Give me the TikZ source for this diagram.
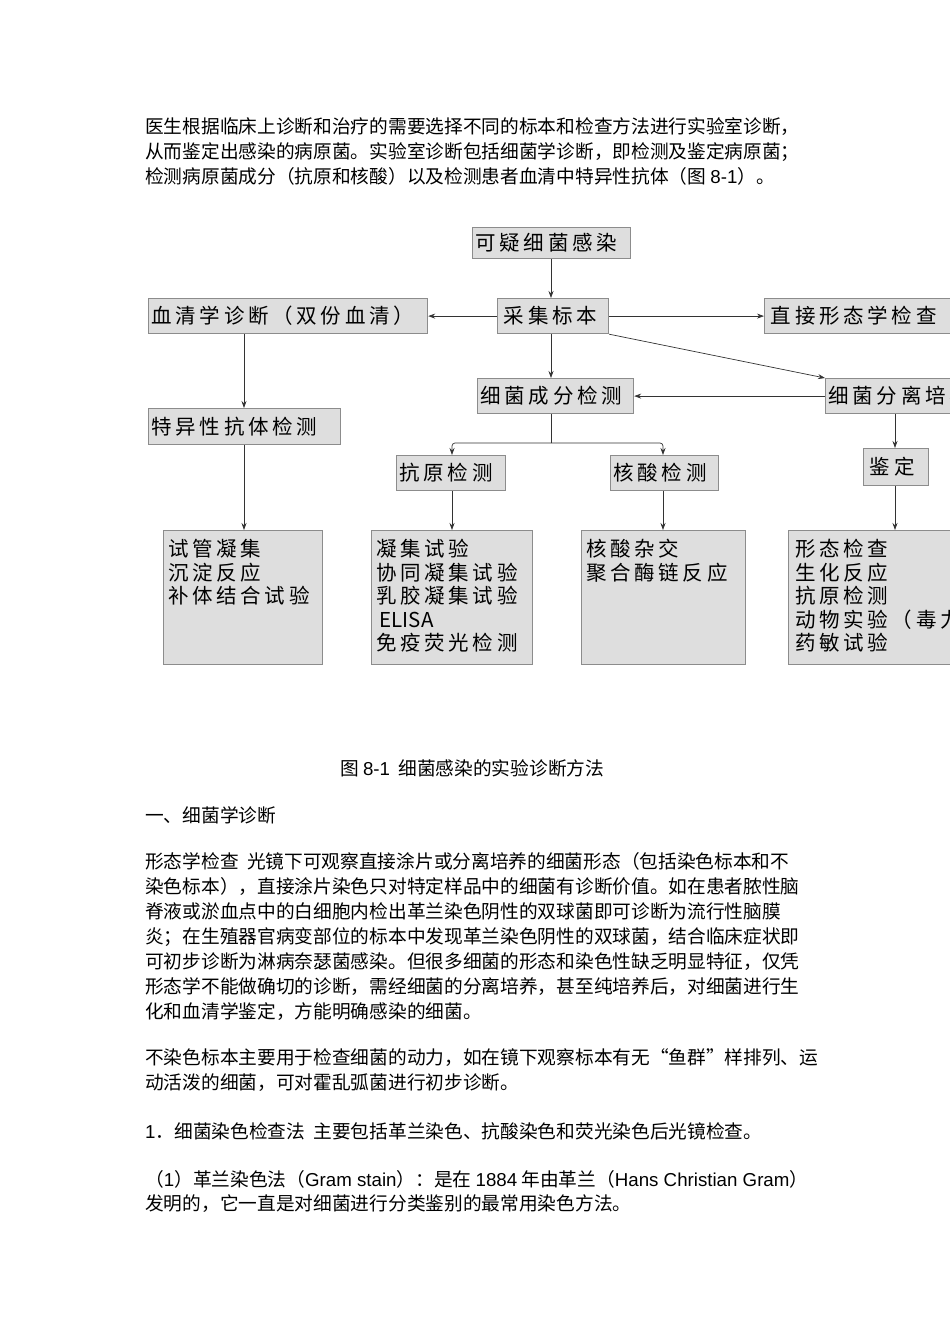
\documentclass[tikz,border=0pt]{standalone}
\usepackage{fontspec}
\setmainfont{Noto Sans CJK SC}
\newfontfamily\boxfont[LetterSpace=18]{Noto Sans CJK SC}
\newfontfamily\latinfont{Liberation Sans}
\usetikzlibrary{arrows.meta}
\begin{document}
\begin{tikzpicture}[x=1pt,y=-1pt,
  bx/.style={draw=black!45,line width=1.2pt,fill=black!13,inner sep=0pt},
  bt/.style={font=\boxfont\fontsize{20.5}{23}\selectfont,anchor=west},
  ln/.style={font=\fontsize{18.7}{20}\selectfont,anchor=base west,inner sep=0pt},
  ar/.style={-{Stealth[length=7pt,width=5pt]},line width=0.7pt,black!80}]
\useasboundingbox (0,0) rectangle (950,1344);
\fill[white] (0,0) rectangle (950,1344);
\begin{scope}
\clip (0,0) rectangle (950,1344);
% text
\node[ln] (t1) at (145,133) {医生根据临床上诊断和治疗的需要选择不同的标本和检查方法进行实验室诊断，};
\node[ln] (t2) at (145,158) {从而鉴定出感染的病原菌。实验室诊断包括细菌学诊断，即检测及鉴定病原菌；};
\node[ln] (t3) at (145,183) {检测病原菌成分（抗原和核酸）以及检测患者血清中特异性抗体（图 {\latinfont 8-1}）。};
% boxes
\node[bx,minimum width=158,minimum height=31,anchor=north west] (a) at (472,227) {};
\node[bt] at (a.west) {可疑细菌感染};
\node[bx,minimum width=111,minimum height=35,anchor=north west] (b) at (497,298) {};
\node[bt] at (b.west) {\,采集标本};
\node[bx,minimum width=279,minimum height=35,anchor=north west] (c) at (148,298) {};
\node[bt] at (c.west) {血清学诊断（双份血清）};
\node[bx,minimum width=220,minimum height=35,anchor=north west] (d) at (764,298) {};
\node[bt] at (d.west) {\,直接形态学检查};
\node[bx,minimum width=156,minimum height=35,anchor=north west] (e) at (477,378) {};
\node[bt] at (e.west) {细菌成分检测};
\node[bx,minimum width=180,minimum height=35,anchor=north west] (f) at (825,378) {};
\node[bt] at (f.west) {细菌分离培养};
\node[bx,minimum width=192,minimum height=36,anchor=north west] (g) at (148,408) {};
\node[bt] at (g.west) {特异性抗体检测};
\node[bx,minimum width=109,minimum height=35,anchor=north west] (h) at (396,455) {};
\node[bt] at (h.west) {抗原检测};
\node[bx,minimum width=108,minimum height=35,anchor=north west] (i) at (610,455) {};
\node[bt] at (i.west) {核酸检测};
\node[bx,minimum width=65,minimum height=37,anchor=north west] (j) at (863,448) {};
\node[bt] at (j.west) {\,鉴定};
\node[bx,minimum width=159,minimum height=134,anchor=north west] (k) at (163,530) {};
\node[bx,minimum width=161,minimum height=134,anchor=north west] (l) at (371,530) {};
\node[bx,minimum width=164,minimum height=134,anchor=north west] (m) at (581,530) {};
\node[bx,minimum width=200,minimum height=134,anchor=north west] (n) at (788,530) {};
\tikzset{lst/.style={font=\boxfont\fontsize{20.5}{23.5}\selectfont,align=left,anchor=north west,inner sep=0pt}}
\node[lst] (kt) at (168,539) {试管凝集\\沉淀反应\\补体结合试验};
\node[lst] (lt) at (376,539) {凝集试验\\协同凝集试验\\乳胶凝集试验\\\,{\rmfamily ELISA}\\免疫荧光检测};
\node[lst] (mt) at (586,539) {核酸杂交\\聚合酶链反应};
\node[lst] (nt) at (795,539) {形态检查\\生化反应\\抗原检测\\动物实验（毒力试验）\\药敏试验};
% arrows
\draw[ar] (a.south -| 551,0) -- (b.north -| 551,0);
\draw[ar] (b.west) -- (c.east);
\draw[ar] (b.east) -- (d.west);
\draw[ar] (b.south -| 551,0) -- (e.north -| 551,0);
\draw[ar] (b.south east) -- (f.north west);
\draw[ar] (f.west) -- (e.east);
\draw[ar] (c.south -| 244,0) -- (g.north -| 244,0);
\draw[ar] (g.south -| 244,0) -- (k.north -| 244,0);
\coordinate (sp) at (551,443);
\draw[line width=0.7pt,black!80] (e.south -| 551,0) -- (sp);
\draw[ar,rounded corners=3pt] (sp) -- (452,443) -- (h.north -| 452,0);
\draw[ar,rounded corners=3pt] (sp) -- (663,443) -- (i.north -| 663,0);
\draw[ar] (h.south -| 452,0) -- (l.north -| 452,0);
\draw[ar] (i.south -| 663,0) -- (m.north -| 663,0);
\draw[ar] (f.south -| 895,0) -- (j.north -| 895,0);
\draw[ar] (j.south -| 895,0) -- (n.north -| 895,0);
% body text
\node[ln] (cap) at (340,775) {图 {\latinfont 8-1}\ \ 细菌感染的实验诊断方法};
\node[ln] (s1) at (145,822) {一、细菌学诊断};
\node[ln] (p1) at (145,868) {形态学检查\ \ 光镜下可观察直接涂片或分离培养的细菌形态（包括染色标本和不};
\node[ln] (p2) at (145,893) {染色标本），直接涂片染色只对特定样品中的细菌有诊断价值。如在患者脓性脑};
\node[ln] (p3) at (145,918) {脊液或淤血点中的白细胞内检出革兰染色阴性的双球菌即可诊断为流行性脑膜};
\node[ln] (p4) at (145,943) {炎；在生殖器官病变部位的标本中发现革兰染色阴性的双球菌，结合临床症状即};
\node[ln] (p5) at (145,968) {可初步诊断为淋病奈瑟菌感染。但很多细菌的形态和染色性缺乏明显特征，仅凭};
\node[ln] (p6) at (145,993) {形态学不能做确切的诊断，需经细菌的分离培养，甚至纯培养后，对细菌进行生};
\node[ln] (p7) at (145,1018) {化和血清学鉴定，方能明确感染的细菌。};
\node[ln] (q1) at (145,1064) {不染色标本主要用于检查细菌的动力，如在镜下观察标本有无“鱼群”样排列、运};
\node[ln] (q2) at (145,1089) {动活泼的细菌，可对霍乱弧菌进行初步诊断。};
\node[ln] (r1) at (145,1138) {{\latinfont 1}．细菌染色检查法\ \ 主要包括革兰染色、抗酸染色和荧光染色后光镜检查。};
\node[ln] (u1) at (145,1186) {（{\latinfont 1}）革兰染色法（{\latinfont Gram stain}）：是在 {\latinfont 1884} 年由革兰（{\latinfont Hans Christian Gram}）};
\node[ln] (u2) at (145,1210) {发明的，它一直是对细菌进行分类鉴别的最常用染色方法。};
\end{scope}
\end{tikzpicture}
\end{document}
